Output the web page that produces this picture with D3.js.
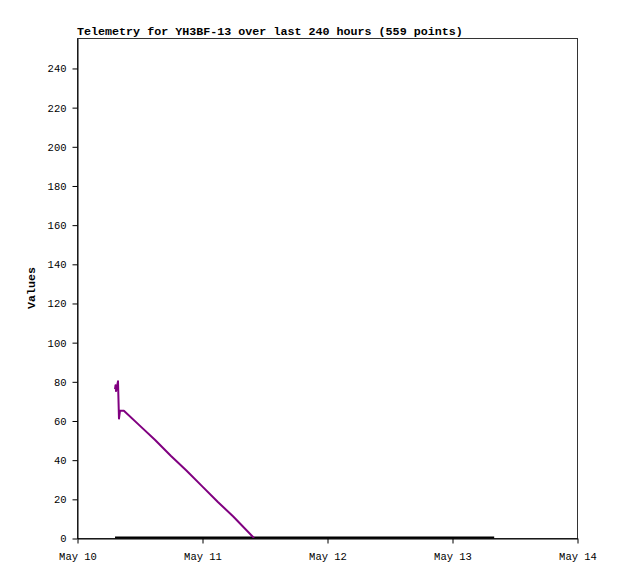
<!DOCTYPE html>
<html><head><meta charset="utf-8">
<script src="https://cdn.jsdelivr.net/npm/d3@7"></script>
<style>
body{margin:0;background:#fff;}
text{font-family:"Liberation Mono","DejaVu Sans Mono",monospace;}
</style></head>
<body><svg id="c" width="618" height="579"></svg>
<script>
const title = "Telemetry for YH3BF-13 over last 240 hours (559 points)";
const yLabel = "Values";
const xTickLabels = ["May 10","May 11","May 12","May 13","May 14"];
const yTicks = [0,20,40,60,80,100,120,140,160,180,200,220,240];
// hours since May 10 00:00 UTC
const purpleHours = [7.3, 7.4, 7.5, 7.87, 8.06, 8.26, 9.0, 12.0, 15.0, 18.0, 21.0, 24.0, 27.0, 30.0, 33.98];
const purpleValues = [76, 78, 75, 80, 61, 65, 65, 57.5, 50, 42, 34.5, 26.5, 18.5, 11, 0];
const blackHours = [7.3, 80.1];
const blackValues = [0, 0];

const svg = d3.select("#c");
const m = {l:77, t:38, r:577, b:538};
const t0 = Date.UTC(2024,4,10);
const toDate = h => new Date(t0 + h*3600e3);
const x = d3.scaleUtc().domain([toDate(0), toDate(96)]).range([m.l, m.r]);
const y = d3.scaleLinear().domain([0, 255.3]).range([m.b, m.t]);

svg.append("rect").attr("x", m.l+0.5).attr("y", m.t+0.5).attr("width", m.r-m.l).attr("height", m.b-m.t)
  .attr("fill","none").attr("stroke","#333");

const clip = svg.append("defs").append("clipPath").attr("id","cp").append("rect")
  .attr("x", m.l).attr("y", m.t).attr("width", m.r-m.l).attr("height", m.b-m.t);

const line = d3.line().x(d=>x(toDate(d[0]))).y(d=>y(d[1]));
svg.append("path").datum(blackHours.map((h,i)=>[h,blackValues[i]]))
  .attr("d", line).attr("fill","none").attr("stroke","#000").attr("stroke-width",2)
  .attr("transform","translate(0,-0.5)");
svg.append("path").datum(purpleHours.map((h,i)=>[h,purpleValues[i]]))
  .attr("d", line).attr("fill","none").attr("stroke","#800080").attr("stroke-width",2)
  .attr("stroke-linejoin","round").attr("clip-path","url(#cp)");

const xAxis = d3.axisBottom(x).tickValues(xTickLabels.map((_,i)=>toDate(24*i)))
  .tickFormat((d,i)=>xTickLabels[i]).tickSize(5).tickSizeOuter(0);
const gx = svg.append("g").attr("transform",`translate(0.5,${m.b+0.5})`).call(xAxis);
gx.selectAll("text").attr("dy","1.3em").style("font-size","10.5px").attr("fill","#000");
gx.select(".domain").attr("stroke","#000");

const yAxis = d3.axisLeft(y).tickValues(yTicks).tickSize(5).tickSizeOuter(0);
const gy = svg.append("g").attr("transform",`translate(${m.l+0.5},0.5)`).call(yAxis);
gy.selectAll("text").attr("x",-11).style("font-size","10.5px").attr("fill","#000");
gy.select(".domain").attr("stroke","#000");

svg.append("text").attr("x", m.l).attr("y", 35).text(title)
  .style("font-size","11.7px").style("font-weight","bold");
svg.append("text").attr("transform","translate(35,288) rotate(-90)").attr("text-anchor","middle")
  .text(yLabel).style("font-size","11.7px").style("font-weight","bold");
</script></body></html>
